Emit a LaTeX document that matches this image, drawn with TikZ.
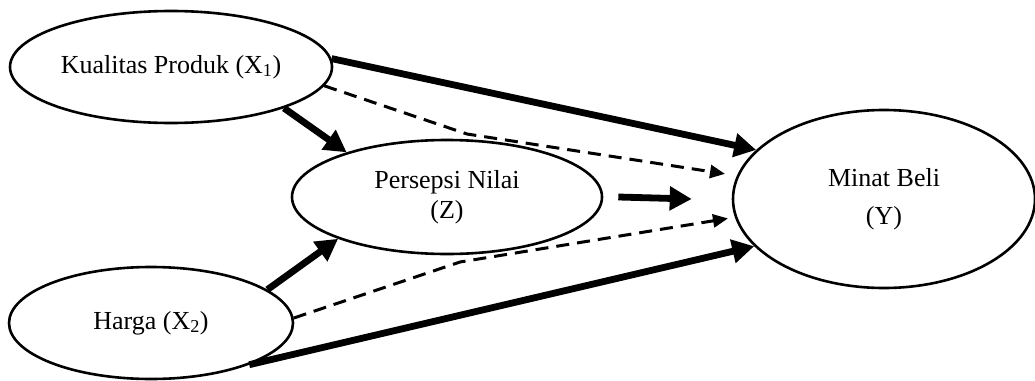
\documentclass[tikz,border=0pt]{standalone}
\usepackage{fontspec}
\setmainfont{Liberation Serif}
\usetikzlibrary{shapes.geometric,arrows.meta}
\tikzset{
  var/.style={ellipse,draw,line width=2.6pt,inner sep=0pt,align=center,font=\fontsize{26}{30}\selectfont},
  thickarrow/.style={line width=6.8pt,-{Triangle[length=22pt,width=23pt]}},
  dasharrow/.style={line width=3pt,dash pattern=on 13pt off 8pt,-{Triangle[length=15pt,width=13pt]}}
}
\begin{document}
\begin{tikzpicture}[x=1pt,y=-1pt]
\useasboundingbox (0,0) rectangle (1035,380);
\node[var,minimum width=322pt,minimum height=112pt] (X1) at (171,67) {Kualitas Produk (X\textsubscript{1})};
\node[var,minimum width=310pt,minimum height=114pt] (Z) at (447,197) {Persepsi Nilai\\(Z)};
\node[var,minimum width=284pt,minimum height=112pt] (X2) at (151,323) {Harga (X\textsubscript{2})};
\node[var,minimum width=302pt,minimum height=178pt] (Y) at (884,199) {Minat Beli\\[8pt](Y)};
\coordinate (b1) at (467,134);
\coordinate (b2) at (460,262);
\draw[thickarrow] (X1.3.6) -- (Y.159.9);
\draw[thickarrow] (X1.-20.7) -- (Z.156.6);
\draw[thickarrow] (X2.16.7) -- (Z.201.5);
\draw[thickarrow] (X2.-23) -- (Y.200);
\draw[thickarrow] ([xshift=15pt]Z.east) -- ([xshift=-40pt]Y.west);
\draw[dasharrow,shorten >=12pt] (X1.-7.7) -- (b1) -- (Y.171.4);
\draw[dasharrow,shorten >=7pt] (X2.2.4) -- (b2) -- (Y.187.8);
\end{tikzpicture}
\end{document}
